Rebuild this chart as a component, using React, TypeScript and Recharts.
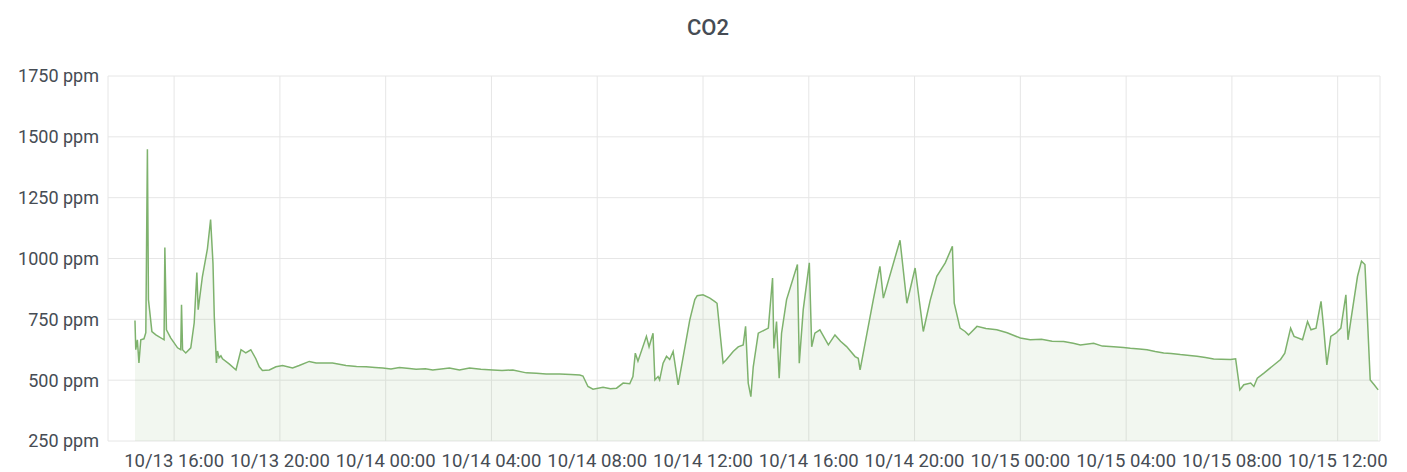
import { AreaChart, Area, XAxis, YAxis, CartesianGrid } from "recharts"

// time in hours since 10/13 00:00
const hours = [
  14.52, 14.55, 14.61, 14.67, 14.74, 14.86, 14.93, 14.99, 15.03, 15.16, 15.31, 15.62, 15.65, 15.71, 15.87,
  16.13, 16.25, 16.28, 16.32, 16.44, 16.63, 16.76, 16.86, 16.91, 17.07, 17.26, 17.38, 17.47, 17.52, 17.6,
  17.64, 17.7, 17.77, 17.83, 18.08, 18.34, 18.53, 18.71, 18.9, 19.09, 19.22, 19.34, 19.6, 19.85, 20.1,
  20.48, 20.73, 21.11, 21.37, 21.62, 21.99, 22.5, 22.9, 23.26, 23.6, 23.89, 24.2, 24.52, 24.9, 25.15,
  25.5, 25.78, 26.1, 26.41, 26.79, 27.17, 27.6, 28.05, 28.4, 28.81, 29.32, 29.7, 30.07, 30.58, 31.0,
  31.34, 31.46, 31.65, 31.84, 32.22, 32.5, 32.73, 32.98, 33.23, 33.35, 33.44, 33.54, 33.86, 33.96, 34.11,
  34.18, 34.3, 34.36, 34.49, 34.62, 34.74, 34.87, 35.06, 35.5, 35.69, 35.78, 36.0, 36.26, 36.45, 36.53,
  36.76, 36.89, 37.14, 37.33, 37.52, 37.61, 37.71, 37.81, 37.9, 38.09, 38.34, 38.47, 38.63, 38.68, 38.78,
  38.88, 38.97, 39.16, 39.57, 39.64, 39.79, 40.02, 40.11, 40.23, 40.42, 40.74, 40.99, 41.2, 41.43, 41.75,
  41.87, 41.94, 42.13, 42.44, 42.69, 42.82, 43.45, 43.71, 44.02, 44.33, 44.59, 44.84, 45.16, 45.43, 45.5,
  45.72, 45.91, 46.04, 46.36, 46.7, 47.11, 47.5, 48.0, 48.37, 48.8, 49.2, 49.64, 50.0, 50.27, 50.77,
  51.1, 51.53, 51.9, 52.16, 52.5, 52.79, 53.1, 53.42, 53.7, 54.05, 54.4, 54.68, 55.0, 55.31, 55.6,
  55.95, 56.14, 56.3, 56.45, 56.71, 56.83, 56.96, 57.21, 57.84, 58.0, 58.22, 58.35, 58.67, 58.86, 58.99,
  59.18, 59.37, 59.47, 59.59, 59.74, 59.93, 60.12, 60.31, 60.39, 60.5, 60.75, 60.9, 61.03, 61.13, 61.23,
  61.38, 61.53,
]

const co2 = [
  745, 625, 666, 571, 666, 670, 695, 1449, 831, 700, 686, 666, 1045, 707, 674,
  633, 625, 810, 625, 612, 633, 736, 942, 790, 926, 1040, 1160, 980, 760, 571,
  620, 592, 600, 588, 567, 542, 625, 612, 625, 588, 555, 540, 542, 555, 560,
  550, 560, 577, 571, 571, 571, 560, 556, 555, 552, 550, 546, 552, 548, 545,
  547, 542, 546, 550, 542, 550, 545, 542, 540, 542, 530, 528, 525, 525, 523,
  521, 517, 474, 463, 471, 465, 467, 488, 485, 515, 611, 578, 680, 637, 693,
  501, 515, 501, 570, 598, 585, 618, 481, 748, 831, 847, 851, 837, 823, 816,
  570, 585, 618, 637, 645, 721, 488, 432, 555, 693, 707, 714, 920, 630, 741,
  508, 693, 831, 975, 570, 790, 982, 637, 693, 707, 645, 686, 660, 638, 597,
  590, 542, 652, 831, 968, 837, 1075, 816, 961, 700, 828, 927, 982, 1050, 816,
  714, 700, 686, 721, 712, 707, 695, 673, 666, 668, 660, 659, 652, 645, 652,
  640, 637, 634, 631, 628, 625, 618, 612, 610, 605, 601, 598, 593, 587, 586,
  585, 588, 460, 481, 488, 474, 508, 529, 585, 611, 714, 680, 666, 741, 707,
  714, 824, 714, 563, 680, 693, 714, 851, 666, 748, 927, 989, 975, 741, 501,
  481, 460,
]

const xTicks = [16, 20, 24, 28, 32, 36, 40, 44, 48, 52, 56, 60]
const xTickLabels = [
  "10/13 16:00", "10/13 20:00", "10/14 00:00", "10/14 04:00", "10/14 08:00", "10/14 12:00",
  "10/14 16:00", "10/14 20:00", "10/15 00:00", "10/15 04:00", "10/15 08:00", "10/15 12:00",
]
const yTicks = [250, 500, 750, 1000, 1250, 1500, 1750]

const data = hours.map((h, i) => ({ h, co2: co2[i] }))

const XTick = (props: any) => {
  const { x, y, payload } = props
  return (
    <text x={x} y={y} dy={18} textAnchor="middle" fill="#464c54" fontSize={18.5}>
      {xTickLabels[xTicks.indexOf(payload.value)]}
    </text>
  )
}

export default function App() {
  return (
    <div
      style={{
        position: "absolute",
        left: 0,
        top: 0,
        width: 1407,
        height: 472,
        background: "#fff",
        fontFamily: "Roboto, sans-serif",
      }}
    >
      <div
        style={{
          position: "absolute",
          left: 708,
          top: 17,
          transform: "translateX(-50%)",
          fontSize: 22,
          lineHeight: "22px",
          fontWeight: 500,
          color: "#464c54",
        }}
      >
        CO2
      </div>
      <AreaChart width={1407} height={472} data={data} margin={{ top: 76, right: 27, bottom: 1, left: 0 }}>
        <CartesianGrid stroke="#e6e6e6" />
        <XAxis
          dataKey="h"
          type="number"
          domain={[13.5, 61.6]}
          ticks={xTicks}
          interval={0}
          axisLine={false}
          tickLine={false}
          height={30}
          tick={<XTick />}
        />
        <YAxis
          type="number"
          domain={[250, 1750]}
          ticks={yTicks}
          width={108}
          axisLine={false}
          tickLine={false}
          tickMargin={3}
          tick={{ fill: "#464c54", fontSize: 18 }}
          tickFormatter={(v: number) => `${v} ppm`}
        />
        <Area
          type="linear"
          dataKey="co2"
          stroke="#7eb26d"
          strokeWidth={1.5}
          fill="#7eb26d"
          fillOpacity={0.1}
          dot={false}
          activeDot={false}
          isAnimationActive={false}
        />
      </AreaChart>
    </div>
  )
}
